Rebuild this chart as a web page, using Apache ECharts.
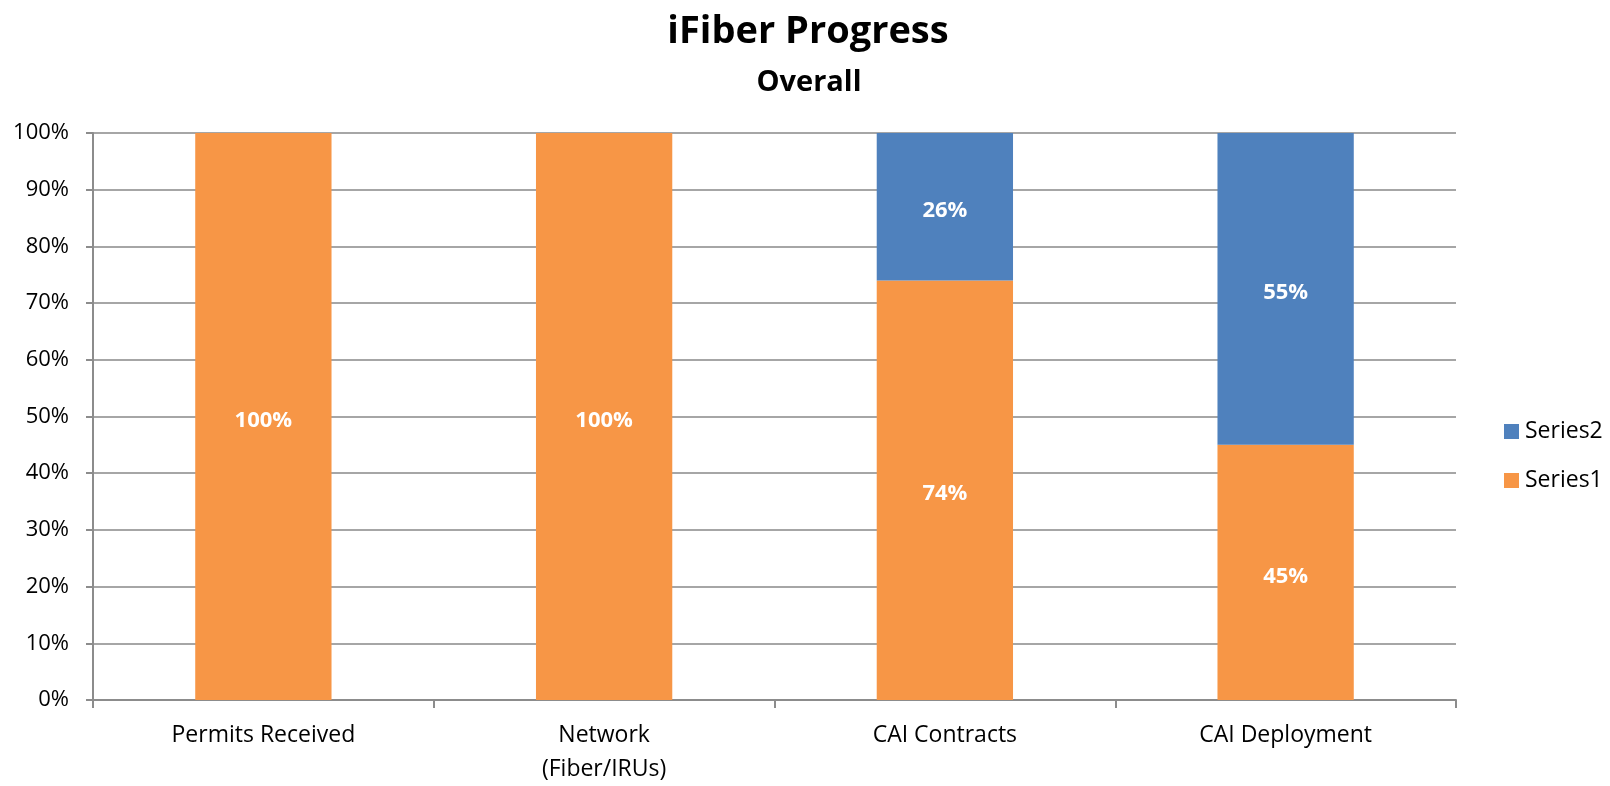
<!DOCTYPE html>
<html>
<head>
<meta charset="utf-8">
<script src="https://cdn.jsdelivr.net/npm/echarts@6/dist/echarts.min.js"></script>
<style>
  html, body { margin: 0; padding: 0; background: #fff; }
  #chart { width: 1610px; height: 786px; }
</style>
</head>
<body>
<div id="chart"></div>
<script>
const categories = ['Permits Received', 'Network\n(Fiber/IRUs)', 'CAI Contracts', 'CAI Deployment'];
const series1 = [100, 100, 74, 45];
const series2 = [0, 0, 26, 55];
const yTicks = [0, 10, 20, 30, 40, 50, 60, 70, 80, 90, 100];

const font = '"Open Sans", "Noto Sans", sans-serif';

const chart = echarts.init(document.getElementById('chart'));

const label = {
  show: true,
  position: 'inside',
  offset: [0, 4],
  color: '#fff',
  fontWeight: 'bold',
  fontSize: 22,
  fontFamily: font,
  formatter: p => p.value ? p.value + '%' : ''
};

const option = {
  animation: false,
  title: [{
    text: 'iFiber Progress',
    left: 803,
    textAlign: 'center',
    top: 8,
    textStyle: { fontSize: 38, fontWeight: 'bold', color: '#000', fontFamily: font }
  }, {
    text: 'Overall',
    left: 804,
    textAlign: 'center',
    top: 63,
    textStyle: { fontSize: 29, fontWeight: 'bold', color: '#000', fontFamily: font }
  }],
  legend: {
    orient: 'vertical',
    left: 1499,
    top: 415,
    itemWidth: 15,
    itemHeight: 15,
    itemGap: 26,
    icon: 'rect',
    data: ['Series2', 'Series1'],
    textStyle: { fontSize: 23, color: '#000', fontFamily: font, padding: [0, 0, 0, 1] }
  },
  grid: { left: 93, right: 154, top: 133, bottom: 84 },
  xAxis: {
    type: 'category',
    data: categories,
    axisLine: { lineStyle: { color: '#8c8c8c', width: 2 } },
    axisTick: { show: true, length: 8, lineStyle: { color: '#8c8c8c', width: 2 } },
    axisLabel: { fontSize: 23, color: '#000', fontFamily: font, margin: 18, lineHeight: 34 }
  },
  yAxis: {
    type: 'value',
    min: 0,
    max: 100,
    interval: 10,
    axisLine: { show: true, lineStyle: { color: '#8c8c8c', width: 2 } },
    axisTick: { show: true, length: 7, lineStyle: { color: '#8c8c8c', width: 2 } },
    splitLine: { lineStyle: { color: '#a6a6a6', width: 2 } },
    axisLabel: {
      fontSize: 22, color: '#000', fontFamily: font, margin: 24,
      formatter: v => yTicks.includes(v) ? v + '%' : ''
    }
  },
  series: [{
    name: 'Series1',
    type: 'bar',
    stack: 'total',
    barWidth: '40%',
    data: series1,
    itemStyle: { color: '#F79646' },
    label: label
  }, {
    name: 'Series2',
    type: 'bar',
    stack: 'total',
    barWidth: '40%',
    data: series2,
    itemStyle: { color: '#4F81BD' },
    label: label
  }]
};

chart.setOption(option);
</script>
</body>
</html>
